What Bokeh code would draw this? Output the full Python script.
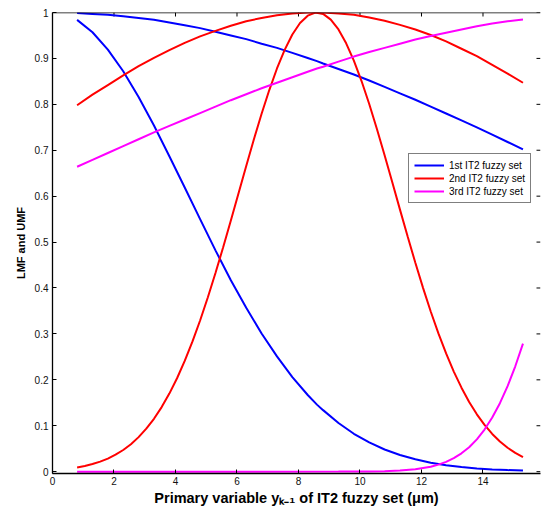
from bokeh.plotting import figure
from bokeh.models import FixedTicker, Range1d, Legend, LegendItem, Span
from bokeh.embed import file_html
from bokeh.resources import INLINE

# ---- data ----
x_vals = [0.8, 1.3, 1.8, 2.3, 2.8, 3.3, 3.8, 4.3, 4.8, 5.3, 5.8, 6.3, 6.8, 7.3, 7.8,
          8.3, 8.6, 8.8, 9.3, 9.8, 10.3, 10.8, 11.3, 11.8, 12.3, 12.8, 13.3, 13.8,
          14.3, 14.8, 15.3]

set1_umf = [0.999, 0.997, 0.995, 0.992, 0.988, 0.984, 0.978, 0.972, 0.966, 0.958,
            0.950, 0.942, 0.932, 0.923, 0.912, 0.901, 0.894, 0.889, 0.877, 0.865,
            0.852, 0.838, 0.824, 0.810, 0.795, 0.780, 0.765, 0.750, 0.734, 0.718, 0.702]
set1_lmf = [0.984, 0.957, 0.919, 0.872, 0.816, 0.754, 0.687, 0.619, 0.550, 0.482,
            0.417, 0.357, 0.301, 0.251, 0.206, 0.167, 0.146, 0.134, 0.106, 0.0825,
            0.0636, 0.0483, 0.0363, 0.0269, 0.0196, 0.0142, 0.0101, 0.0071, 0.0049,
            0.0034, 0.0023]
set2_umf = [0.798, 0.821, 0.842, 0.863, 0.883, 0.901, 0.918, 0.934, 0.948, 0.960,
            0.971, 0.981, 0.988, 0.994, 0.998, 1.000, 1.000, 1.000, 0.998, 0.995,
            0.989, 0.982, 0.973, 0.963, 0.951, 0.937, 0.921, 0.905, 0.886, 0.867, 0.847]
set3_umf = [0.664, 0.679, 0.694, 0.709, 0.724, 0.739, 0.753, 0.767, 0.781, 0.795,
            0.809, 0.822, 0.835, 0.847, 0.859, 0.871, 0.878, 0.882, 0.893, 0.904,
            0.914, 0.923, 0.932, 0.941, 0.949, 0.956, 0.963, 0.970, 0.976, 0.981, 0.985]

# denser sampling for the narrow 2nd-set LMF
x_set2_lmf = [0.80, 1.05, 1.30, 1.55, 1.80, 2.05, 2.30, 2.55, 2.80, 3.05, 3.30, 3.55,
              3.80, 4.05, 4.30, 4.55, 4.80, 5.05, 5.30, 5.55, 5.80, 6.05, 6.30, 6.55,
              6.80, 7.05, 7.30, 7.55, 7.80, 8.05, 8.30, 8.55, 8.80, 9.05, 9.30, 9.55,
              9.80, 10.05, 10.30, 10.55, 10.80, 11.05, 11.30, 11.55, 11.80, 12.05,
              12.30, 12.55, 12.80, 13.05, 13.30, 13.55, 13.80, 14.05, 14.30, 14.55,
              14.80, 15.05, 15.30]
set2_lmf = [0.0093, 0.0125, 0.0166, 0.0219, 0.0285, 0.0369, 0.0472, 0.0598, 0.0752,
            0.0936, 0.1152, 0.1406, 0.1700, 0.2035, 0.2412, 0.2831, 0.3292, 0.3794,
            0.4326, 0.4888, 0.5472, 0.6065, 0.6656, 0.7239, 0.7796, 0.8311, 0.8781,
            0.9187, 0.9520, 0.9770, 0.9931, 0.9998, 0.9969, 0.9845, 0.9630, 0.9329,
            0.8951, 0.8507, 0.8007, 0.7464, 0.6891, 0.6302, 0.5707, 0.5120, 0.4549,
            0.4003, 0.3489, 0.3011, 0.2574, 0.2180, 0.1829, 0.1518, 0.1249, 0.1018,
            0.0822, 0.0657, 0.0520, 0.0408, 0.0316]

x_set3_lmf = [0.8, 9.3, 9.8, 10.3, 10.8, 11.3, 11.8, 12.3, 12.55, 12.8, 13.05, 13.3,
              13.55, 13.8, 14.05, 14.3, 14.55, 14.8, 15.05, 15.3]
set3_lmf = [0.0, 0.0001, 0.0002, 0.0004, 0.0010, 0.0024, 0.0052, 0.0108, 0.0153,
            0.0214, 0.0294, 0.0399, 0.0533, 0.0704, 0.0917, 0.1178, 0.1491, 0.1862,
            0.2295, 0.2788]

legend_labels = ["1st IT2 fuzzy set", "2nd IT2 fuzzy set", "3rd IT2 fuzzy set"]
series_colors = ["#0000ff", "#ff0000", "#ff00ff"]

x_ticks = [0, 2, 4, 6, 8, 10, 12, 14]
y_ticks = [0, 0.1, 0.2, 0.3, 0.4, 0.5, 0.6, 0.7, 0.8, 0.9, 1]
y_tick_labels = ["0", "0.1", "0.2", "0.3", "0.4", "0.5", "0.6", "0.7", "0.8", "0.9", "1"]

x_title = "Primary variable yₖ₋₁ of IT2 fuzzy set (μm)"
y_title = "LMF and UMF"

FONT = "Liberation Sans"
X_END = 15.87
Y_START, Y_END = -0.004, 1.0

p = figure(frame_width=488, frame_height=461,
           x_range=Range1d(0, X_END), y_range=Range1d(Y_START, Y_END),
           output_backend="svg", toolbar_location=None,
           min_border_left=52, min_border_right=1, min_border_top=12,
           min_border_bottom=33, background_fill_color="white",
           border_fill_color="white", outline_line_color=None)

p.xgrid.visible = False
p.ygrid.visible = False

# box: top edge line and inward ticks on top / right edges
p.add_layout(Span(location=Y_END, dimension="width", line_color="black", line_width=1.3))
tick_len_y = 4 * (Y_END - Y_START) / 461
tick_len_x = 4 * X_END / 488
p.segment(x0=x_ticks, y0=[Y_END] * len(x_ticks), x1=x_ticks,
          y1=[Y_END - tick_len_y] * len(x_ticks), line_color="black", line_width=1)
p.segment(x0=[X_END] * len(y_ticks), y0=y_ticks, x1=[X_END - tick_len_x] * len(y_ticks),
          y1=y_ticks, line_color="black", line_width=1)

curves = [(x_vals, set1_umf, x_vals, set1_lmf),
          (x_vals, set2_umf, x_set2_lmf, set2_lmf),
          (x_vals, set3_umf, x_set3_lmf, set3_lmf)]
items = []
for (xu, umf, xl, lmf), col, lab in zip(curves, series_colors, legend_labels):
    r1 = p.line(xu, umf, line_color=col, line_width=2)
    p.line(xl, lmf, line_color=col, line_width=2)
    items.append(LegendItem(label=lab, renderers=[r1]))

def style_axis(ax):
    ax.axis_line_color = "black"
    ax.axis_line_width = 1.3
    ax.major_tick_in = 4
    ax.major_tick_out = 0
    ax.minor_tick_line_color = None
    ax.major_tick_line_color = "black"
    ax.major_label_text_font = FONT
    ax.major_label_text_color = "#111111"
    ax.major_label_text_font_size = "10px"
    ax.major_label_standoff = 4

xax = p.xaxis[0]
yax = p.yaxis[0]
xax.ticker = FixedTicker(ticks=x_ticks)
yax.ticker = FixedTicker(ticks=y_ticks)
style_axis(xax)
style_axis(yax)
xax.major_label_standoff = 3
yax.major_label_overrides = {t: l for t, l in zip(y_ticks, y_tick_labels)}

xax.axis_label = x_title
xax.axis_label_text_font = FONT
xax.axis_label_text_font_style = "bold"
xax.axis_label_text_font_size = "14.5px"
xax.axis_label_text_color = "black"
xax.axis_label_standoff = 2

yax.axis_label = y_title
yax.axis_label_text_font = FONT
yax.axis_label_text_font_style = "bold"
yax.axis_label_text_font_size = "11px"
yax.axis_label_text_color = "black"
yax.axis_label_standoff = 5

legend = Legend(items=items, location=(356, 270))
legend.label_text_font = FONT
legend.label_text_font_size = "10px"
legend.label_text_color = "black"
legend.glyph_width = 30
legend.glyph_height = 12
legend.label_height = 12
legend.label_standoff = 5
legend.spacing = 1
legend.padding = 5
legend.margin = 0
legend.border_line_color = "black"
legend.border_line_width = 1
legend.background_fill_color = "white"
legend.background_fill_alpha = 1
p.add_layout(legend, "center")

open("out.html", "w").write(file_html(p, INLINE))
